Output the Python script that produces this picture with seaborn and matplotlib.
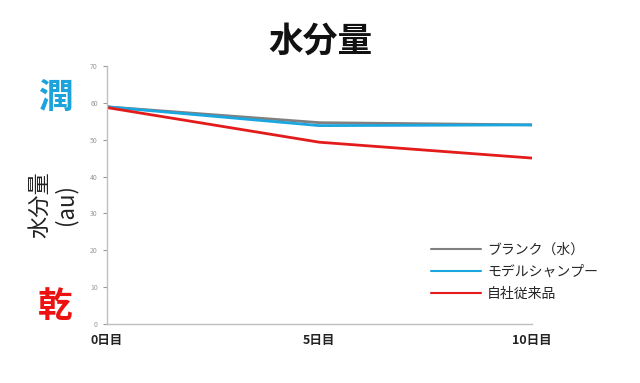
import matplotlib
matplotlib.use("Agg")
import matplotlib.pyplot as plt
import matplotlib.transforms as mtransforms
import seaborn as sns
import pandas as pd

days = [0, 5, 10]
day_labels = ["0日目", "5日目", "10日目"]
series_names = ["ブランク（水）", "モデルシャンプー", "自社従来品"]
blank = [58.9, 54.6, 54.0]
model = [58.9, 53.8, 54.0]
conventional = [58.7, 49.3, 45.0]

colors = ["#808080", "#1aa6de", "#e31b1b"]

sns.set_theme(style="white")
plt.rcParams['font.family'] = ['Noto Sans CJK JP', 'DejaVu Sans']

df = pd.DataFrame({
    "day": days * 3,
    "value": blank + model + conventional,
    "series": [series_names[0]] * 3 + [series_names[1]] * 3 + [series_names[2]] * 3,
})

fig = plt.figure(figsize=(6.4, 3.83), dpi=100)
ax = fig.add_axes([0.167, 0.154, 0.664, 0.674])
sns.lineplot(data=df, x="day", y="value", hue="series", hue_order=series_names,
             palette=colors, linewidth=2, ax=ax)

ax.set_xlim(0, 10)
ax.set_ylim(0, 70)
ax.set_yticks(range(0, 71, 10))
ax.set_xticks(days)
ax.set_xticklabels(day_labels, fontsize=9, fontweight="bold", color="#222222")
offset = mtransforms.ScaledTranslation(-7 / 100, 0, fig.dpi_scale_trans)
for lbl in ax.get_xticklabels():
    lbl.set_transform(lbl.get_transform() + offset)
ax.tick_params(axis="y", labelsize=5, colors="#999999", length=3, width=0.8, direction="out", left=True)
ax.tick_params(axis="x", length=0, pad=7)
for lbl in ax.get_yticklabels():
    lbl.set_color("#999999")
ax.set_xlabel("")
ax.set_ylabel("")
for s in ["top", "right"]:
    ax.spines[s].set_visible(False)
for s in ["left", "bottom"]:
    ax.spines[s].set_color("#bfbfbf")
    ax.spines[s].set_linewidth(1)

leg = ax.legend(loc="lower right", bbox_to_anchor=(1.185, 0.04), frameon=False, fontsize=10,
                handlelength=3.6, labelspacing=0.58, handletextpad=0.45)
for line in leg.get_lines():
    line.set_linewidth(1.5)

fig.text(0.5, 0.893, "水分量", ha="center", va="center", fontsize=25, fontweight="bold", color="#111111")
fig.text(0.082, 0.467, "水分量\n(au)", ha="center", va="center", rotation=90, fontsize=16, color="#222222", linespacing=1.15)
fig.text(0.087, 0.745, "潤", ha="center", va="center", fontsize=25, fontweight="bold", color="#1ca3dc")
fig.text(0.086, 0.2, "乾", ha="center", va="center", fontsize=25, fontweight="bold", color="#ee1111")

fig.savefig("out.png", dpi=100)
